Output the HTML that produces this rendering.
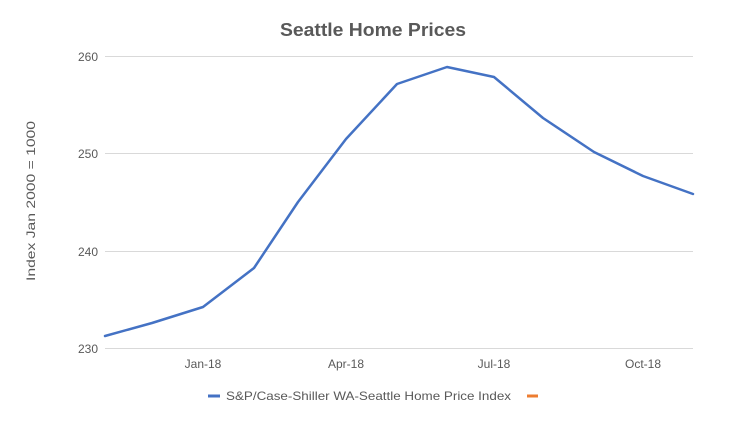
<!DOCTYPE html>
<html><head><style>
html,body{margin:0;padding:0;background:#fff;}
svg{display:block;font-family:"Liberation Sans",sans-serif;}
</style></head><body>
<svg width="746" height="426" viewBox="0 0 746 426" xmlns="http://www.w3.org/2000/svg">
<rect width="746" height="426" fill="#fff"/>
<text x="280" y="36" textLength="186" lengthAdjust="spacingAndGlyphs" font-size="18" font-weight="bold" fill="#595959">Seattle Home Prices</text>
<g stroke="#d9d9d9" stroke-width="1">
<line x1="105" y1="56.5" x2="693" y2="56.5"/>
<line x1="105" y1="153.5" x2="693" y2="153.5"/>
<line x1="105" y1="251.5" x2="693" y2="251.5"/>
<line x1="105" y1="348.5" x2="693" y2="348.5"/>
</g>
<g font-size="12" fill="#595959" text-anchor="end">
<text x="98" y="61">260</text>
<text x="98" y="158">250</text>
<text x="98" y="256">240</text>
<text x="98" y="353">230</text>
</g>
<g font-size="12" fill="#595959" text-anchor="middle">
<text x="203" y="368">Jan-18</text>
<text x="346" y="368">Apr-18</text>
<text x="494" y="368">Jul-18</text>
<text x="643" y="368">Oct-18</text>
</g>
<text transform="translate(35,201) rotate(-90)" x="-80" textLength="160" lengthAdjust="spacingAndGlyphs" font-size="12" fill="#595959">Index Jan 2000 = 1000</text>
<polyline fill="none" stroke="#4472c4" stroke-width="2.5" stroke-linejoin="round" stroke-linecap="round"
points="105,336 152,323 203,307 254,268 298,202 346,139 397,84 447,67 494,77 543,118 594,152 643,176 693,194"/>
<line x1="208" y1="396" x2="220" y2="396" stroke="#4472c4" stroke-width="3"/>
<text x="226" y="400" textLength="285" lengthAdjust="spacingAndGlyphs" font-size="12" fill="#595959">S&amp;P/Case-Shiller WA-Seattle Home Price Index</text>
<line x1="527" y1="396" x2="538" y2="396" stroke="#ed7d31" stroke-width="3"/>
</svg>
</body></html>
